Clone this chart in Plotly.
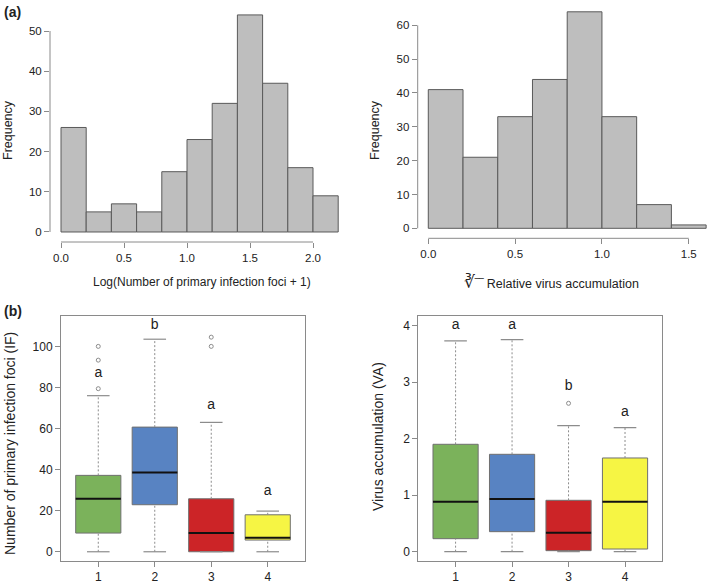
import plotly.graph_objects as go

W, H = 709, 584

# ---------------- data ----------------
# (a) left histogram: Log(number of primary infection foci + 1)
hist1_bin_starts = [0.0, 0.2, 0.4, 0.6, 0.8, 1.0, 1.2, 1.4, 1.6, 1.8, 2.0]
hist1_counts = [26, 5, 7, 5, 15, 23, 32, 54, 37, 16, 9]
hist1_xticks = [0.0, 0.5, 1.0, 1.5, 2.0]
hist1_yticks = [0, 10, 20, 30, 40, 50]

# (a) right histogram: cube root of relative virus accumulation
hist2_bin_starts = [0.0, 0.2, 0.4, 0.6, 0.8, 1.0, 1.2, 1.4]
hist2_counts = [41, 21, 33, 44, 64, 33, 7, 1]
hist2_xticks = [0.0, 0.5, 1.0, 1.5]
hist2_yticks = [0, 10, 20, 30, 40, 50, 60]

bin_width = 0.2

# (b) boxplots
groups = [1, 2, 3, 4]
group_labels = ["1", "2", "3", "4"]
box_colors = ["#7BB25B", "#5883C2", "#CC2427", "#F6F544"]

if_lower = [0, 0, 0, 0]
if_q1 = [9.1, 22.9, 0.0, 5.7]
if_median = [25.8, 38.6, 9.1, 6.8]
if_q3 = [37.2, 60.7, 25.8, 18.0]
if_upper = [76.0, 103.5, 63.0, 19.8]
if_outlier_group = [1, 1, 1, 3, 3]
if_outlier_value = [79.4, 93.3, 100.0, 100.0, 104.5]
if_letters = ["a", "b", "a", "a"]
if_letter_y = [87.0, 110.0, 71.4, 29.2]
if_yticks = [0, 20, 40, 60, 80, 100]

va_lower = [0, 0, 0, 0]
va_q1 = [0.23, 0.354, 0.018, 0.047]
va_median = [0.885, 0.932, 0.336, 0.885]
va_q3 = [1.90, 1.723, 0.909, 1.658]
va_upper = [3.73, 3.752, 2.23, 2.195]
va_outlier_group = [3]
va_outlier_value = [2.625]
va_letters = ["a", "a", "b", "a"]
va_letter_y = [4.01, 4.01, 2.93, 2.47]
va_yticks = [0, 1, 2, 3, 4]

# ---------------- style ----------------
FONT = "Liberation Sans"
TXT = "#222222"
AXC = "#8a8a8a"
BAR_FILL = "#BEBEBE"
BAR_LINE = "#5a5a5a"
BOX_LINE = "#707070"


def dx(l, r):
    return [l / W, r / W]


def dy(top, bottom):
    return [1 - bottom / H, 1 - top / H]


fig = go.Figure()

# histograms
fig.add_trace(go.Bar(x=hist1_bin_starts, y=hist1_counts, width=bin_width, offset=0,
                     marker=dict(color=BAR_FILL, line=dict(color=BAR_LINE, width=1)),
                     xaxis="x", yaxis="y", showlegend=False, hoverinfo="skip"))
fig.add_trace(go.Bar(x=hist2_bin_starts, y=hist2_counts, width=bin_width, offset=0,
                     marker=dict(color=BAR_FILL, line=dict(color=BAR_LINE, width=1)),
                     xaxis="x2", yaxis="y2", showlegend=False, hoverinfo="skip"))


def add_boxes(xa, ya, low, q1, med, q3, up, og, ov, letters, ly):
    heights = [b - a for a, b in zip(q1, q3)]
    fig.add_trace(go.Bar(x=groups, y=heights, base=q1, width=0.8,
                         marker=dict(color=box_colors, line=dict(color=BOX_LINE, width=1)),
                         xaxis=xa, yaxis=ya, showlegend=False, hoverinfo="skip"))
    wx, wy, cx, cy, mx, my = [], [], [], [], [], []
    for g, lo, a, m, b, hi in zip(groups, low, q1, med, q3, up):
        wx += [g, g, None, g, g, None]
        wy += [b, hi, None, lo, a, None]
        cx += [g - 0.2, g + 0.2, None, g - 0.2, g + 0.2, None]
        cy += [hi, hi, None, lo, lo, None]
        mx += [g - 0.4, g + 0.4, None]
        my += [m, m, None]
    fig.add_trace(go.Scatter(x=wx, y=wy, mode="lines",
                             line=dict(color="#8c8c8c", width=1, dash="2px,2px"),
                             xaxis=xa, yaxis=ya, showlegend=False, hoverinfo="skip"))
    fig.add_trace(go.Scatter(x=cx, y=cy, mode="lines",
                             line=dict(color="#8c8c8c", width=1.2),
                             xaxis=xa, yaxis=ya, showlegend=False, hoverinfo="skip"))
    fig.add_trace(go.Scatter(x=mx, y=my, mode="lines",
                             line=dict(color="#111111", width=2),
                             xaxis=xa, yaxis=ya, showlegend=False, hoverinfo="skip"))
    fig.add_trace(go.Scatter(x=og, y=ov, mode="markers",
                             marker=dict(symbol="circle-open", size=4, color="#8c8c8c",
                                         line=dict(width=1)),
                             xaxis=xa, yaxis=ya, showlegend=False, hoverinfo="skip"))
    fig.add_trace(go.Scatter(x=groups, y=ly, mode="text", text=letters,
                             textfont=dict(family=FONT, size=14, color=TXT),
                             textposition="middle center",
                             xaxis=xa, yaxis=ya, showlegend=False, hoverinfo="skip"))


add_boxes("x3", "y3", if_lower, if_q1, if_median, if_q3, if_upper,
          if_outlier_group, if_outlier_value, if_letters, if_letter_y)
add_boxes("x4", "y4", va_lower, va_q1, va_median, va_q3, va_upper,
          va_outlier_group, va_outlier_value, va_letters, va_letter_y)

tickfont_top = dict(family=FONT, size=11.5, color=TXT)
tickfont_bot = dict(family=FONT, size=12, color=TXT)
common_free = dict(showgrid=False, zeroline=False, showline=False, ticks="outside",
                   ticklen=5, tickcolor=AXC, tickfont=tickfont_top, fixedrange=True)
common_box = dict(showgrid=False, zeroline=False, showline=True, mirror=True,
                  linecolor=AXC, linewidth=1, ticks="outside", ticklen=5,
                  tickcolor=AXC, tickfont=tickfont_bot, fixedrange=True)

fig.update_layout(
    width=W, height=H,
    margin=dict(l=0, r=0, t=0, b=0),
    paper_bgcolor="white", plot_bgcolor="white",
    bargap=0, barmode="overlay",
    font=dict(family=FONT, color=TXT),
    xaxis=dict(domain=dx(50, 344.5), anchor="y", range=[-0.0873, 2.25],
               tickvals=hist1_xticks, ticktext=[f"{v:.1f}" for v in hist1_xticks], **common_free),
    yaxis=dict(domain=dy(7, 242), anchor="x", range=[-2.49, 55.97],
               tickvals=hist1_yticks, **common_free),
    xaxis2=dict(domain=dx(417.7, 707), anchor="y2", range=[-0.061, 1.605],
                tickvals=hist2_xticks, ticktext=[f"{v:.1f}" for v in hist2_xticks], **common_free),
    yaxis2=dict(domain=dy(2, 238.3), anchor="x2", range=[-2.956, 66.9],
                tickvals=hist2_yticks, **common_free),
    xaxis3=dict(domain=dx(61, 305), anchor="y3", range=[0.34, 4.66],
                tickvals=groups, ticktext=group_labels, **common_box),
    yaxis3=dict(domain=dy(316, 561), anchor="x3", range=[-4.5, 114.8],
                tickvals=if_yticks, **common_box),
    xaxis4=dict(domain=dx(418.3, 662.3), anchor="y4", range=[0.34, 4.66],
                tickvals=groups, ticktext=group_labels, **common_box),
    yaxis4=dict(domain=dy(316, 561), anchor="x4", range=[-0.165, 4.17],
                tickvals=va_yticks, **common_box),
)

# detached R-style axis lines for the histograms (span first to last tick)
for xa, ya, xt, yt in [("x", "y", hist1_xticks, hist1_yticks),
                       ("x2", "y2", hist2_xticks, hist2_yticks)]:
    fig.add_shape(type="line", xref=xa, yref=ya + " domain",
                  x0=xt[0], x1=xt[-1], y0=0, y1=0, line=dict(color=AXC, width=1))
    fig.add_shape(type="line", xref=xa + " domain", yref=ya,
                  x0=0, x1=0, y0=yt[0], y1=yt[-1], line=dict(color=AXC, width=1))


def ann(text, x, y, size=12, angle=0, xanchor="center", yanchor="middle"):
    fig.add_annotation(text=text, x=x / W, y=1 - y / H, xref="paper", yref="paper",
                       showarrow=False, textangle=angle, xanchor=xanchor, yanchor=yanchor,
                       font=dict(family=FONT, size=size, color=TXT))


ann("<b>(a)</b>", 2, 12, size=14, xanchor="left")
ann("<b>(b)</b>", 2, 311, size=14, xanchor="left")
ann("Frequency", 8, 130, size=12.5, angle=-90)
ann("Frequency", 375, 130, size=12.5, angle=-90)
ann("Log(Number of primary infection foci + 1)", 202, 282, size=12)
ann("<span style='font-size:17px'>∛</span>‾‾ Relative virus accumulation", 551, 282, size=12.5)
ann("Number of primary infection foci (IF)", 10, 444, size=14, angle=-90)
ann("Virus accumulation (VA)", 378, 436, size=14, angle=-90)

fig.write_html("out.html", config={"displayModeBar": False, "staticPlot": True},
               post_script="document.body.style.margin='0px';document.body.style.overflow='hidden';")
